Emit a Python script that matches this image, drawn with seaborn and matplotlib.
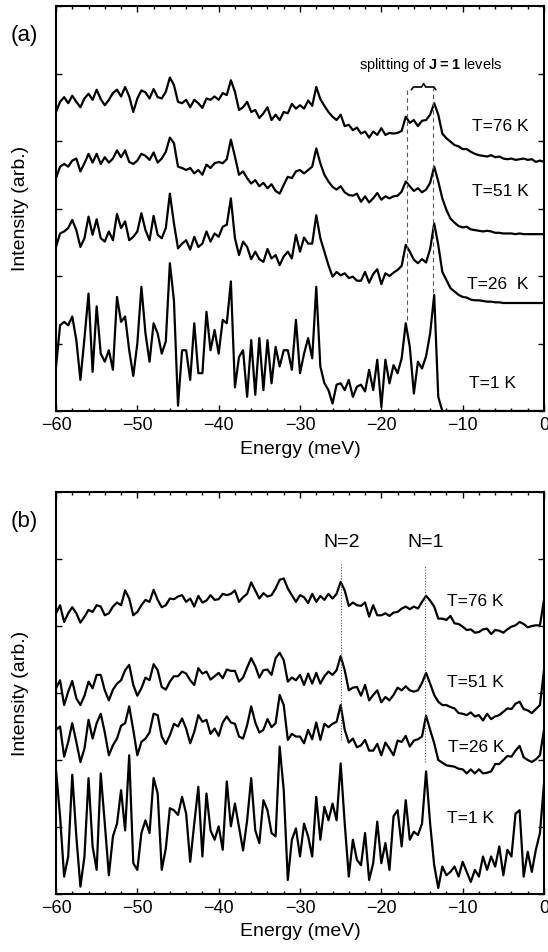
import numpy as np
import pandas as pd
import seaborn as sns
import matplotlib.pyplot as plt
from matplotlib.ticker import MultipleLocator

# energy grid of the spectra (meV), 0.5 meV steps
energy = np.arange(-60, 0.25, 0.5)

# panel (a) spectra (arb. units, offsets included)
a_t76 = [4.43, 4.58, 4.65, 4.56, 4.67, 4.58, 4.50, 4.63, 4.70, 4.61,
         4.76, 4.62, 4.53, 4.61, 4.71, 4.76, 4.66, 4.80, 4.66, 4.43,
         4.63, 4.75, 4.72, 4.63, 4.77, 4.65, 4.63, 4.73, 4.94, 4.83,
         4.58, 4.56, 4.61, 4.50, 4.61, 4.56, 4.49, 4.63, 4.61, 4.66,
         4.61, 4.71, 4.68, 4.90, 4.73, 4.46, 4.50, 4.58, 4.43, 4.46,
         4.34, 4.41, 4.50, 4.31, 4.39, 4.31,
         4.43, 4.41, 4.55, 4.48, 4.53, 4.48, 4.60, 4.52, 4.80, 4.62,
         4.52, 4.43, 4.36, 4.31, 4.39, 4.22, 4.24, 4.16, 4.20, 4.11,
         4.14, 4.05, 4.14, 4.09, 4.19, 4.09, 4.12, 4.11, 4.12, 4.15,
         4.36, 4.27, 4.31, 4.22, 4.30, 4.31, 4.39, 4.56, 4.39, 4.11,
         4.04, 3.99, 3.94, 3.92, 3.88, 3.88, 3.84, 3.81, 3.79, 3.78,
         3.77, 3.79, 3.76, 3.77, 3.74, 3.73, 3.74, 3.72, 3.73, 3.74,
         3.72, 3.73, 3.69, 3.71, 3.69]
a_t51 = [3.45, 3.62, 3.66, 3.62, 3.71, 3.74, 3.55, 3.67, 3.81, 3.68,
         3.81, 3.66, 3.76, 3.68, 3.74, 3.86, 3.76, 3.86, 3.69, 3.66,
         3.71, 3.81, 3.78, 3.72, 3.83, 3.68, 3.74, 3.84, 4.05, 3.97,
         3.62, 3.60, 3.57, 3.60, 3.52, 3.57, 3.50, 3.65, 3.60, 3.67,
         3.69, 3.67, 3.73, 4.02, 3.77, 3.50, 3.55, 3.45, 3.37, 3.42,
         3.33, 3.38, 3.30, 3.36, 3.26, 3.22,
         3.35, 3.47, 3.45, 3.55, 3.57, 3.52, 3.57, 3.62, 3.89, 3.67,
         3.50, 3.40, 3.32, 3.28, 3.33, 3.24, 3.20, 3.19, 3.22, 3.10,
         3.18, 3.09, 3.15, 3.23, 3.13, 3.18, 3.15, 3.18, 3.19, 3.25,
         3.40, 3.33, 3.26, 3.30, 3.24, 3.28, 3.38, 3.62, 3.40, 3.15,
         2.98, 2.85, 2.79, 2.74, 2.72, 2.73, 2.69, 2.68, 2.67, 2.66,
         2.67, 2.66, 2.64, 2.64, 2.63, 2.63, 2.63, 2.62, 2.63, 2.62,
         2.62, 2.62, 2.62, 2.62, 2.62]
a_t26 = [2.43, 2.63, 2.66, 2.71, 2.83, 2.68, 2.43, 2.56, 2.88, 2.61,
         2.84, 2.56, 2.51, 2.66, 2.53, 2.92, 2.71, 2.81, 2.53, 2.58,
         2.66, 2.93, 2.68, 2.53, 2.89, 2.61, 2.56, 2.71, 3.22, 2.78,
         2.41, 2.48, 2.53, 2.39, 2.58, 2.43, 2.48, 2.66, 2.51, 2.63,
         2.58, 2.73, 2.76, 3.15, 2.56, 2.31, 2.51, 2.43, 2.25, 2.36,
         2.25, 2.21, 2.40, 2.26, 2.31, 2.16,
         2.29, 2.36, 2.26, 2.61, 2.36, 2.57, 2.48, 2.48, 2.90, 2.56,
         2.36, 2.16, 1.99, 2.06, 2.01, 2.04, 1.97, 1.99, 1.93, 1.93,
         2.06, 1.90, 2.03, 2.10, 1.88, 2.04, 2.00, 2.05, 2.09, 2.15,
         2.46, 2.36, 2.24, 2.19, 2.25, 2.20, 2.40, 2.78, 2.46, 2.06,
         1.94, 1.82, 1.77, 1.72, 1.69, 1.68, 1.65, 1.64, 1.64, 1.63,
         1.62, 1.62, 1.61, 1.61, 1.60, 1.60, 1.60, 1.60, 1.60, 1.60,
         1.60, 1.60, 1.60, 1.60, 1.60]
a_t1 = [0.65, 1.27, 1.32, 1.27, 1.40, 1.05, 0.46, 1.08, 1.74, 0.58,
        1.55, 0.85, 0.73, 0.90, 0.61, 1.69, 1.32, 1.40, 0.90, 0.52,
        1.00, 1.84, 1.15, 0.73, 1.30, 1.15, 0.85, 1.03, 2.19, 1.64,
        0.08, 0.90, 0.90, 0.46, 1.30, 0.56, 0.56, 1.47, 0.90, 1.20,
        0.85, 1.35, 1.30, 1.92, 0.35, 0.80, 0.90, 0.21, 1.05, 0.24,
        1.08, 0.31, 1.05, 0.41, 0.95, 0.66,
        0.90, 0.90, 0.61, 1.35, 0.56, 0.85, 1.08, 0.78, 1.84, 0.66,
        0.41, 0.31, 0.11, 0.39, 0.41, 0.31, 0.46, 0.21, 0.36, 0.39,
        0.29, 0.61, 0.31, 0.76, 0.06, 0.76, 0.41, 0.68, 0.56, 0.78,
        1.30, 0.95, 0.26, 0.73, 0.63, 0.81, 1.15, 1.72, 0.21, 0.00,
        0.00, 0.00, 0.00, 0.00, 0.00, 0.00, 0.00, 0.00, 0.00, 0.00,
        0.00, 0.00, 0.00, 0.00, 0.00, 0.00, 0.00, 0.00, 0.00, 0.00,
        0.00, 0.00, 0.00, 0.00, 0.00]

# panel (b) spectra
b_t76 = [4.19, 4.31, 4.06, 4.19, 4.28, 4.19, 4.05, 4.14, 4.24, 4.21,
         4.31, 4.29, 4.16, 4.19, 4.29, 4.35, 4.31, 4.53, 4.41, 4.16,
         4.21, 4.31, 4.39, 4.36, 4.54, 4.39, 4.28, 4.31, 4.41, 4.40,
         4.44, 4.46, 4.36, 4.41, 4.29, 4.45, 4.35, 4.38, 4.46, 4.39,
         4.40, 4.48, 4.46, 4.48, 4.53, 4.36, 4.43, 4.48, 4.65, 4.53,
         4.41, 4.49, 4.44, 4.46, 4.56, 4.69,
         4.71, 4.56, 4.46, 4.36, 4.46, 4.43, 4.34, 4.48, 4.36, 4.45,
         4.39, 4.48, 4.41, 4.48, 4.66, 4.53, 4.30, 4.35, 4.31, 4.30,
         4.35, 4.14, 4.31, 4.16, 4.16, 4.19, 4.15, 4.20, 4.21, 4.26,
         4.29, 4.25, 4.29, 4.26, 4.36, 4.45, 4.38, 4.29, 4.11, 4.11,
         4.09, 4.15, 4.04, 4.03, 3.99, 3.94, 3.95, 3.90, 3.91, 3.95,
         3.96, 3.88, 3.94, 3.93, 3.90, 3.95, 3.99, 4.01, 4.06, 4.03,
         3.98, 4.00, 4.01, 4.01, 4.39]
b_t51 = [3.07, 3.19, 2.82, 3.02, 3.18, 2.92, 2.82, 2.96, 3.17, 3.07,
         3.27, 3.27, 3.04, 2.89, 3.05, 3.14, 3.19, 3.34, 3.42, 3.12,
         2.96, 3.07, 3.23, 3.19, 3.43, 3.34, 3.09, 3.05, 3.17, 3.25,
         3.25, 3.32, 3.29, 3.19, 3.12, 3.37, 3.29, 3.32, 3.20, 3.25,
         3.30, 3.22, 3.35, 3.33, 3.33, 3.17, 3.23, 3.38, 3.52, 3.40,
         3.23, 3.34, 3.35, 3.27, 3.52, 3.60, 3.49, 3.17, 3.23, 3.19,
         3.27, 3.12, 3.29, 3.14, 3.30, 3.14, 3.25, 3.32, 3.27, 3.34,
         3.55, 3.34, 3.04, 3.08, 3.09, 2.96, 3.12, 2.89, 2.97, 3.04,
         2.86, 2.94, 2.89, 2.97, 3.08, 3.04, 3.10, 3.04, 3.02, 3.04,
         3.15, 3.30, 3.14, 2.97, 2.87, 2.82, 2.82, 2.79, 2.77, 2.70,
         2.69, 2.67, 2.71, 2.65, 2.67, 2.59, 2.69, 2.61, 2.65, 2.67,
         2.72, 2.77, 2.76, 2.84, 2.87, 2.76, 2.74, 2.70, 2.76, 2.82,
         3.34]
b_t26 = [2.45, 2.50, 2.05, 2.27, 2.55, 2.27, 1.97, 2.17, 2.60, 2.32,
         2.55, 2.69, 2.41, 2.07, 2.22, 2.32, 2.51, 2.55, 2.80, 2.45,
         2.07, 2.27, 2.32, 2.41, 2.69, 2.67, 2.35, 2.24, 2.37, 2.54,
         2.50, 2.62, 2.47, 2.25, 2.42, 2.67, 2.57, 2.60, 2.39, 2.47,
         2.36, 2.56, 2.65, 2.56, 2.54, 2.35, 2.32, 2.52, 2.80, 2.56,
         2.41, 2.45, 2.61, 2.49, 2.55, 2.97, 2.82, 2.30, 2.39, 2.35,
         2.35, 2.25, 2.45, 2.31, 2.56, 2.30, 2.54, 2.49, 2.54, 2.57,
         2.82, 2.45, 2.26, 2.32, 2.19, 2.22, 2.30, 2.14, 2.14, 2.24,
         2.07, 2.26, 2.17, 2.07, 2.29, 2.27, 2.36, 2.20, 2.29, 2.31,
         2.35, 2.66, 2.45, 2.25, 2.00, 1.96, 1.92, 1.91, 1.90, 1.87,
         1.86, 1.80, 1.86, 1.80, 1.86, 1.80, 1.81, 1.83, 1.94, 1.94,
         2.00, 2.06, 2.05, 2.14, 2.21, 2.04, 2.00, 1.97, 2.01, 2.07,
         2.45]
b_t1 = [1.85, 1.16, 0.26, 0.56, 1.78, 0.86, 0.11, 0.56, 1.73, 0.71,
        0.36, 1.80, 1.05, 0.28, 0.86, 1.05, 1.55, 0.95, 2.07, 0.46,
        0.36, 0.91, 1.10, 0.91, 1.73, 1.50, 0.36, 0.68, 1.28, 1.25,
        1.18, 1.45, 1.20, 0.48, 1.05, 1.60, 0.56, 1.50, 0.95, 0.81,
        1.01, 0.66, 1.68, 1.01, 1.35, 1.00, 0.65, 1.10, 1.73, 0.95,
        0.76, 1.40, 1.25, 0.91, 0.86, 2.20,
        1.55, 0.21, 0.81, 0.98, 0.56, 1.05, 0.86, 0.56, 1.45, 0.81,
        1.30, 1.10, 1.35, 1.10, 1.95, 1.05, 0.26, 0.81, 0.51, 0.43,
        0.91, 0.21, 0.46, 1.08, 0.46, 0.76, 0.36, 1.16, 1.25, 0.71,
        1.40, 0.81, 0.93, 0.88, 1.05, 1.83, 1.05, 0.43, 0.09, 0.41,
        0.28, 0.33, 0.41, 0.26, 0.48, 0.33, 0.18, 0.36, 0.26, 0.56,
        0.36, 0.56, 0.41, 0.71, 0.28, 0.66, 0.56, 1.20, 1.25, 0.26,
        0.63, 0.33, 0.66, 0.91, 1.65]

a_labels = ["T=76 K", "T=51 K", "T=26  K", "T=1 K"]
b_labels = ["T=76 K", "T=51 K", "T=26 K", "T=1 K"]
a_label_pos = [(-8.8, 4.21), (-8.9, 3.25), (-9.5, 1.87), (-9.2, 0.41)]
b_label_pos = [(-11.9, 4.36), (-11.9, 3.16), (-11.8, 2.18), (-11.9, 1.13)]

# J=1 splitting (panel a) and N=2 / N=1 markers (panel b)
split_E = [-16.8, -13.6]
split_top = [4.78, 4.78]
split_bottom = [1.35, 1.75]
n_E = [-24.9, -14.6]
n_names = ["N=2", "N=1"]
n_top = [4.95, 4.91]
n_bottom = [2.30, 1.97]

sns.set_style("ticks", rc={'axes.edgecolor': 'black', 'text.color': 'black',
                           'axes.labelcolor': 'black', 'xtick.color': 'black',
                           'ytick.color': 'black'})
plt.rcParams['font.family'] = ['Liberation Sans', 'DejaVu Sans']
plt.rcParams['mathtext.fontset'] = 'custom'
plt.rcParams['mathtext.bf'] = 'Liberation Sans:bold'
plt.rcParams['mathtext.rm'] = 'Liberation Sans'


def make_df(curves, labels):
    rows = []
    for lab, vals in zip(labels, curves):
        rows.append(pd.DataFrame({'energy': energy, 'intensity': vals, 'temp': lab}))
    return pd.concat(rows, ignore_index=True)


df_a = make_df([a_t76, a_t51, a_t26, a_t1], a_labels)
df_b = make_df([b_t76, b_t51, b_t26, b_t1], b_labels)

fig = plt.figure(figsize=(5.48, 9.52), dpi=100)
ax1 = fig.add_axes([56 / 548, 1 - 411 / 952, 488 / 548, 405 / 952])
ax2 = fig.add_axes([56 / 548, 1 - 894 / 952, 488 / 548, 402 / 952])

for ax, df in [(ax1, df_a), (ax2, df_b)]:
    sns.lineplot(data=df, x='energy', y='intensity', units='temp', estimator=None,
                 sort=False, color='black', lw=1.6, ax=ax, legend=False)
    ax.set_xlim(-60, 0)
    ax.set_ylim(0, 6)
    ax.xaxis.set_major_locator(MultipleLocator(10))
    ax.xaxis.set_minor_locator(MultipleLocator(2))
    ax.yaxis.set_major_locator(MultipleLocator(1))
    ax.tick_params(which='both', direction='in', top=True, right=True,
                   labelleft=False, width=1, labelsize=13, pad=4, colors='black')
    ax.tick_params(which='major', length=4.5)
    ax.tick_params(which='minor', length=2.5)
    for sp in ax.spines.values():
        sp.set_linewidth(1.5)
        sp.set_color('black')
    ax.set_xlabel("Energy (meV)", fontsize=14, labelpad=5, color='black')
    ax.set_ylabel("")

for lab, (x, y) in zip(a_labels, a_label_pos):
    ax1.text(x, y, lab, fontsize=12.5, va='center', ha='left', color='black')
for lab, (x, y) in zip(b_labels, b_label_pos):
    ax2.text(x, y, lab, fontsize=12.5, va='center', ha='left', color='black')

# panel (a): dashed guides + brace
ax1.vlines(split_E, split_bottom, split_top, colors='0.35', linestyles=(0, (4, 3)), lw=0.8)
x0, x1 = split_E[0] + 0.5, split_E[1] + 0.3
xm = (x0 + x1) / 2
ax1.plot([x0, x0 + 0.25, xm - 0.25, xm, xm + 0.25, x1 - 0.25, x1],
         [4.76, 4.80, 4.80, 4.85, 4.80, 4.80, 4.76], color='black', lw=1.2)
ax1.text(xm + 0.9, 5.13, r"splitting of $\mathbf{J{=}1}$ levels", fontsize=10.5,
         ha='center', va='center', color='black')

# panel (b): dotted guides
ax2.vlines(n_E, n_bottom, n_top, colors='0.35', linestyles=(0, (1, 1.5)), lw=0.8)
for e, name in zip(n_E, n_names):
    ax2.text(e, 5.24, name, fontsize=14, ha='center', va='center', color='black')

fig.text(24 / 548, 1 - 35 / 952, "(a)", fontsize=16, ha='center', va='center')
fig.text(24 / 548, 1 - 522 / 952, "(b)", fontsize=16, ha='center', va='center')
fig.text(21 / 548, 1 - 208 / 952, "Intensity (arb.)", fontsize=14, rotation=90,
         ha='center', va='center')
fig.text(21 / 548, 1 - 693 / 952, "Intensity (arb.)", fontsize=14, rotation=90,
         ha='center', va='center')

fig.savefig("out.png", dpi=100)
plt.close(fig)
